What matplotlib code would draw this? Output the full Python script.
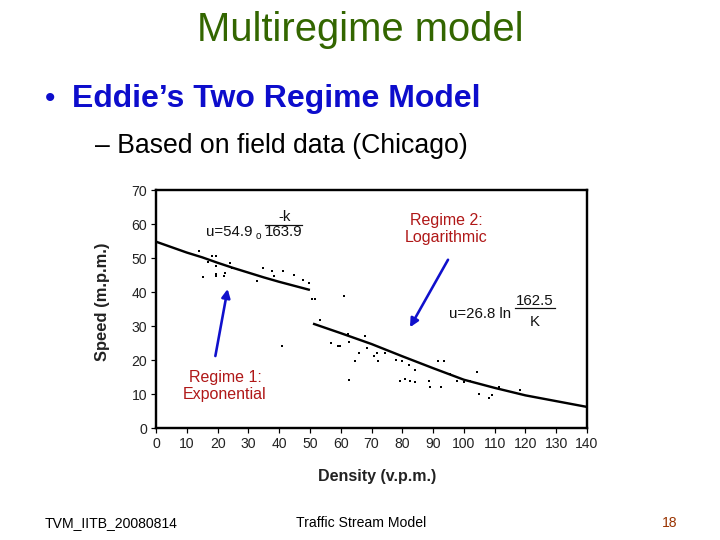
import matplotlib
matplotlib.use("Agg")
import matplotlib.pyplot as plt
from matplotlib.lines import Line2D
from matplotlib.patches import FancyArrowPatch

plt.rcParams['font.family'] = ['Liberation Sans', 'DejaVu Sans']

# ---- data ----
regime1_density = [0, 5, 10, 15, 20, 25, 30, 35, 40, 45, 50]
regime1_speed = [54.8, 53.2, 51.6, 50.2, 48.6, 47.1, 45.7, 44.3, 43.0, 41.8, 40.6]

regime2_density = [51, 60, 70, 80, 90, 100, 110, 120, 130, 140]
regime2_speed = [30.7, 27.9, 24.7, 21.1, 17.6, 14.2, 11.8, 9.6, 7.9, 6.2]

obs_density = [13.9, 15.3, 16.8, 18.2, 19.6, 19.6, 19.6, 19.6, 22.0, 22.5, 24.1, 24.7,
               32.8, 34.9, 37.7, 38.2, 41.2, 44.7, 47.7, 49.6, 50.7, 51.8, 61.2, 40.9,
               53.2, 56.8, 59.0, 59.9, 62.3, 62.6, 62.6, 64.7, 65.8, 68.0, 68.5, 70.7,
               71.8, 72.0, 74.5, 77.8, 79.4, 79.9, 81.0, 82.1, 82.4, 84.2, 84.2, 88.6,
               89.1, 91.6, 92.6, 93.7, 95.4, 97.8, 99.9, 102.1, 104.3, 104.8, 108.1,
               109.1, 111.3, 118.3]
obs_speed = [52.1, 44.3, 48.7, 50.6, 50.6, 45.3, 44.6, 47.7, 44.6, 45.5, 48.5, 47.0,
             43.1, 47.2, 46.3, 44.6, 46.1, 45.1, 43.6, 42.6, 38.0, 38.0, 38.9, 24.0,
             31.8, 25.0, 24.2, 24.2, 27.7, 25.2, 14.2, 19.6, 22.2, 27.1, 23.5, 21.1,
             22.0, 19.6, 22.2, 20.1, 13.9, 19.6, 14.4, 18.6, 13.7, 13.4, 17.1, 13.7,
             12.0, 19.6, 12.0, 19.6, 16.0, 13.7, 13.4, 13.7, 16.4, 10.0, 8.8,
             9.8, 12.2, 11.1]

x_ticks = [0, 10, 20, 30, 40, 50, 60, 70, 80, 90, 100, 110, 120, 130, 140]
y_ticks = [0, 10, 20, 30, 40, 50, 60, 70]

W, H = 720, 540
def P(x, y):
    return (x / W, 1 - y / H)

fig = plt.figure(figsize=(10, 7.5), dpi=72)
fig.patch.set_facecolor('white')

# slide texts
fig.text(*P(360, 30), "Multiregime model", color='#336600', fontsize=40,
         ha='center', va='center')
fig.text(*P(50, 99), "\u2022", color='#0D0DCC', fontsize=30, ha='center', va='center')
fig.text(*P(72, 99), "Eddie\u2019s Two Regime Model", color='#0D0DCC', fontsize=32,
         fontweight='bold', ha='left', va='center')
fig.text(*P(95, 146), "\u2013 Based on field data (Chicago)", color='black', fontsize=26.6,
         ha='left', va='center')

fig.text(*P(45, 527), "TVM_IITB_20080814", fontsize=14,
         ha='left', va='baseline', color='black')
fig.text(*P(361, 527), "Traffic Stream Model", fontsize=14,
         ha='center', va='baseline', color='black')
fig.text(*P(677, 527), "18", fontsize=14,
         ha='right', va='baseline', color='#993300')

# chart
left, right, top, bottom = 156, 587, 190, 428
ax = fig.add_axes([left / W, 1 - bottom / H, (right - left) / W, (bottom - top) / H])
ax.plot(regime1_density, regime1_speed, color='black', lw=2.4, solid_capstyle='butt')
ax.plot(regime2_density, regime2_speed, color='black', lw=2.4, solid_capstyle='butt')
ax.scatter(obs_density, obs_speed, s=8, marker='s', color='black', linewidths=0)

ax.set_xlim(0, 140)
ax.set_ylim(0, 70)
ax.set_xticks(x_ticks)
ax.set_yticks(y_ticks)
ax.tick_params(axis='both', direction='out', length=5, width=1.2, labelsize=14,
               labelcolor='#222222', color='black', pad=4)
for s in ax.spines.values():
    s.set_linewidth(2.4)
    s.set_color('black')
ax.set_xlabel("Density (v.p.m.)", fontsize=16, fontweight='bold', color='#222222')
ax.set_ylabel("Speed (m.p.m.)", fontsize=16.5, fontweight='bold', color='#222222')
# label centres in pixel space: x-label (377, 476), y-label (102, 302)
ax.xaxis.set_label_coords((377 - left) / (right - left), -(476 - bottom) / (bottom - top))
ax.xaxis.label.set_va('center')
ax.yaxis.set_label_coords(-(left - 102) / (right - left), (bottom - 302) / (bottom - top))
ax.yaxis.label.set_va('center')

# equations
eq = dict(fontsize=15, color='#111111', va='center')
ax.text(16.4, 57.6, "u=54.9", ha='left', **eq)
ax.text(33.2, 56.6, "o", fontsize=10, ha='center', va='center', color='#111111')
ax.text(41.6, 62.2, "-k", ha='center', **eq)
ax.add_line(Line2D([35.4, 47.4], [59.8, 59.8], color='#111111', lw=1.2))
ax.text(41.6, 57.5, "163.9", ha='center', **eq)

ax.text(95.3, 33.5, "u=26.8 ln", ha='left', **eq)
ax.text(123.1, 37.4, "162.5", ha='center', **eq)
ax.add_line(Line2D([116.6, 129.6], [35.4, 35.4], color='#111111', lw=1.2))
ax.text(123.1, 31.2, "K", ha='center', **eq)

# red labels
fig.text(*P(446, 229), "Regime 2:\nLogarithmic", color='#B01818', fontsize=16,
         ha='center', va='center', linespacing=1.15)
fig.text(*P(225, 386), "Regime 1:\nExponential", color='#B01818', fontsize=16,
         ha='center', va='center', linespacing=1.15)

# blue arrows
for (x0, y0), (x1, y1) in [((215, 358), (228, 287)), ((449, 258), (409, 329))]:
    arr = FancyArrowPatch(P(x0, y0), P(x1, y1), transform=fig.transFigure,
                          arrowstyle='-|>,head_length=7,head_width=3.5',
                          color='#1010CC', lw=2.6, mutation_scale=1)
    fig.patches.append(arr)

fig.savefig("out.png", dpi=72, facecolor='white')
